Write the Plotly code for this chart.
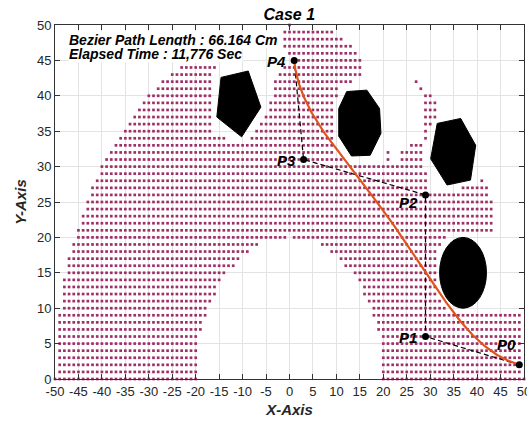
import numpy as np
from math import comb
import plotly.graph_objects as go

# ---------------- data ----------------
ctrl_labels = ["P0", "P1", "P2", "P3", "P4"]
ctrl_x = [49, 29, 29, 3, 1]
ctrl_y = [2, 6, 26, 31, 45]

obstacle1_x = [-14.6, -8.8, -6.1, -10.2, -15.5]
obstacle1_y = [42.6, 43.5, 38.4, 34.2, 37.0]
obstacle2_x = [12.2, 16.5, 19.2, 19.5, 17.2, 13.2, 10.5, 10.5]
obstacle2_y = [40.6, 40.8, 38.2, 34.7, 31.6, 31.5, 34.3, 38.2]
obstacle3_x = [31.5, 36.5, 39.7, 38.6, 33.6, 30.1]
obstacle3_y = [36.1, 36.8, 33.0, 28.1, 27.4, 31.1]
obstacle4_center = [37, 15]
obstacle4_radius = 5

# free workspace grid: for each row y, the x-intervals holding dots
dot_row_y = list(range(0, 51))
dot_row_segments = [
    [(-50, -20), (20, 50)],
    [(-49, -20), (20, 49)],
    [(-49, -20), (20, 49)],
    [(-49, -20), (20, 49)],
    [(-49, -20), (20, 49)],
    [(-49, -20), (20, 49)],
    [(-49, -20), (20, 49)],
    [(-49, -19), (19, 49)],
    [(-49, -19), (19, 49)],
    [(-49, -18), (18, 49)],
    [(-48, -18), (18, 33)],
    [(-48, -17), (17, 32)],
    [(-48, -16), (16, 31)],
    [(-48, -16), (16, 31)],
    [(-48, -15), (15, 31)],
    [(-47, -14), (14, 31)],
    [(-47, -12), (12, 31)],
    [(-47, -11), (11, 31)],
    [(-46, -9), (9, 31)],
    [(-46, -7), (7, 32)],
    [(-45, -1), (1, 33)],
    [(-45, 43)],
    [(-44, 43)],
    [(-44, 43)],
    [(-43, 43)],
    [(-43, 43)],
    [(-42, 42)],
    [(-42, 29), (37, 42)],
    [(-41, 29), (41, 41)],
    [(-40, 29)],
    [(-40, 28)],
    [(-39, 11), (21, 21), (24, 28)],
    [(-38, 9), (21, 21), (24, 28)],
    [(-37, 9), (26, 28)],
    [(-36, -14), (-8, 9), (29, 29)],
    [(-35, -17), (-7, 9), (29, 29)],
    [(-34, -17), (-6, 9), (29, 30)],
    [(-33, -17), (-5, 9), (29, 31)],
    [(-32, -17), (-4, 9), (29, 31)],
    [(-31, -17), (-4, 9), (29, 31)],
    [(-30, -17), (-3, 10), (29, 30)],
    [(-28, -17), (-3, 10), (28, 28)],
    [(-27, -17), (-3, 13), (27, 27)],
    [(-25, -17), (-2, 15)],
    [(-23, -16), (-1, 15)],
    [(-21, -17), (2, 15)],
    [(0, 14)],
    [(-1, 13)],
    [(-1, 11)],
    [(-1, 9)],
    [(0, 0)],
]

x_ticks = list(range(-50, 51, 5))
y_ticks = list(range(0, 51, 5))
title_text = "Case 1"
info_lines = ["Bezier Path Length : 66.164 Cm", "Elapsed Time : 11,776 Sec"]

# ---------------- build ----------------
dot_x, dot_y = [], []
for yv, segs in zip(dot_row_y, dot_row_segments):
    for a, b in segs:
        for xv in range(a, b + 1):
            dot_x.append(xv)
            dot_y.append(yv)

# quartic Bezier from control points
t = np.linspace(0, 1, 300)
n = len(ctrl_x) - 1
bx = sum(comb(n, i) * (1 - t) ** (n - i) * t ** i * ctrl_x[i] for i in range(n + 1))
by = sum(comb(n, i) * (1 - t) ** (n - i) * t ** i * ctrl_y[i] for i in range(n + 1))

FONT = "Liberation Sans, Arial, Helvetica, sans-serif"
DOT = "#9E2F68"

fig = go.Figure()
fig.add_trace(go.Scatter(x=dot_x, y=dot_y, mode="markers",
                         marker=dict(symbol="square", size=2.7, color=DOT, line=dict(width=0)),
                         cliponaxis=False, hoverinfo="skip"))
for ox, oy in [(obstacle1_x, obstacle1_y), (obstacle2_x, obstacle2_y), (obstacle3_x, obstacle3_y)]:
    fig.add_trace(go.Scatter(x=ox + [ox[0]], y=oy + [oy[0]], mode="lines", fill="toself",
                             fillcolor="black", line=dict(color="black", width=1), hoverinfo="skip"))
fig.add_shape(type="circle", xref="x", yref="y",
              x0=obstacle4_center[0] - obstacle4_radius, x1=obstacle4_center[0] + obstacle4_radius,
              y0=obstacle4_center[1] - obstacle4_radius, y1=obstacle4_center[1] + obstacle4_radius,
              fillcolor="black", line=dict(color="black", width=1))

fig.add_trace(go.Scatter(x=ctrl_x, y=ctrl_y, mode="lines",
                         line=dict(color="black", width=1.2, dash="5px,3px"), hoverinfo="skip"))
fig.add_trace(go.Scatter(x=bx, y=by, mode="lines", line=dict(color="#E0531A", width=2.2), hoverinfo="skip"))
fig.add_trace(go.Scatter(x=ctrl_x, y=ctrl_y, mode="markers", cliponaxis=False,
                         marker=dict(color="black", size=7), hoverinfo="skip"))

label_pos = {"P0": (46.3, 4.9), "P1": (25.3, 5.9), "P2": (25.3, 24.9), "P3": (-0.6, 30.9), "P4": (-2.7, 44.9)}
for lab in ctrl_labels:
    lx, ly = label_pos[lab]
    fig.add_annotation(x=lx, y=ly, xref="x", yref="y", text=f"<b><i>{lab}</i></b>", showarrow=False,
                       font=dict(family=FONT, size=15, color="black"), xanchor="center", yanchor="middle")

for i, line in enumerate(info_lines):
    fig.add_annotation(x=-47.3, y=47.9 - 2.0 * i, xref="x", yref="y", text=f"<b><i>{line}</i></b>",
                       showarrow=False, xanchor="left", yanchor="middle", bgcolor="white", borderpad=0,
                       font=dict(family=FONT, size=14, color="black"))

axis_common = dict(showgrid=True, gridcolor="#E3E3E3", gridwidth=1, zeroline=False,
                   showline=True, linecolor="#333333", linewidth=1, mirror="ticks",
                   ticks="inside", ticklen=5, tickcolor="#333333", automargin=False,
                   tickfont=dict(family=FONT, size=13, color="#262626"))

fig.update_xaxes(range=[-50, 50], tickvals=x_ticks, ticktext=[str(v) for v in x_ticks],
                 ticklabeloverflow="allow",
                 title=dict(text="<b><i>X-Axis</i></b>", font=dict(family=FONT, size=15, color="#262626"), standoff=6),
                 **axis_common)
fig.update_yaxes(range=[0, 50], tickvals=y_ticks, ticktext=[str(v) for v in y_ticks],
                 title=dict(text="<b><i>Y-Axis</i></b>", font=dict(family=FONT, size=15, color="#262626"), standoff=6),
                 **axis_common)

fig.update_layout(width=527, height=424, margin=dict(l=55, r=3, t=25, b=45),
                  plot_bgcolor="white", paper_bgcolor="white", showlegend=False,
                  title=dict(text=f"<b><i>{title_text}</i></b>", x=0.549, xanchor="center", y=0.965, yanchor="middle",
                             font=dict(family=FONT, size=16, color="black")))

fig.write_html("out.html")
